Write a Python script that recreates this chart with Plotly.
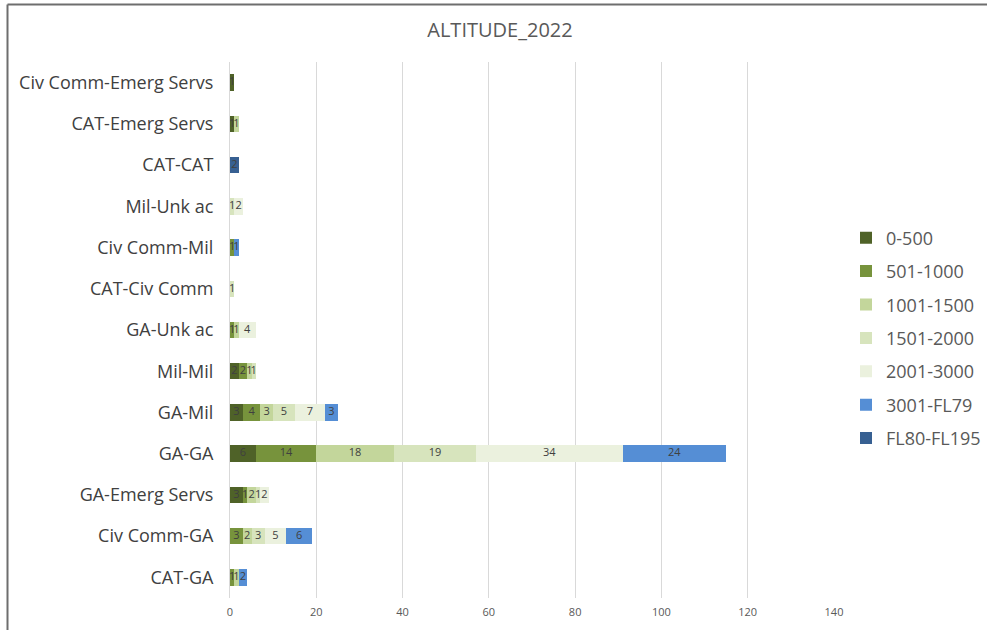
import plotly.graph_objects as go

# Encounter pairs, listed top to bottom
categories = [
    "Civ Comm-Emerg Servs", "CAT-Emerg Servs", "CAT-CAT", "Mil-Unk ac",
    "Civ Comm-Mil", "CAT-Civ Comm", "GA-Unk ac", "Mil-Mil", "GA-Mil",
    "GA-GA", "GA-Emerg Servs", "Civ Comm-GA", "CAT-GA",
]

# Altitude bands (stack order) and counts per pair
alt_0_500 =      [1, 1, 0, 0, 0, 0, 0, 2, 3, 6, 3, 0, 0]
alt_501_1000 =   [0, 0, 0, 0, 1, 0, 1, 2, 4, 14, 1, 3, 1]
alt_1001_1500 =  [0, 1, 0, 0, 0, 0, 1, 1, 3, 18, 2, 2, 1]
alt_1501_2000 =  [0, 0, 0, 1, 0, 1, 0, 1, 5, 19, 1, 3, 0]
alt_2001_3000 =  [0, 0, 0, 2, 0, 0, 4, 0, 7, 34, 2, 5, 0]
alt_3001_fl79 =  [0, 0, 0, 0, 1, 0, 0, 0, 3, 24, 0, 6, 2]
alt_fl80_fl195 = [0, 0, 2, 0, 0, 0, 0, 0, 0, 0, 0, 0, 0]

series = [
    ("0-500", alt_0_500, "#4F6228"),
    ("501-1000", alt_501_1000, "#77933C"),
    ("1001-1500", alt_1001_1500, "#C3D69B"),
    ("1501-2000", alt_1501_2000, "#D7E4BD"),
    ("2001-3000", alt_2001_3000, "#EBF1DE"),
    ("3001-FL79", alt_3001_fl79, "#558ED5"),
    ("FL80-FL195", alt_fl80_fl195, "#376092"),
]

FONT = "Open Sans"
TEXT = "#404040"

fig = go.Figure()
base = [0] * len(categories)
label_traces = []
for i, (name, vals, color) in enumerate(series):
    xs = [v if v else None for v in vals]
    fig.add_trace(go.Bar(
        name=name, y=categories, x=xs, orientation="h",
        marker=dict(color=color, line=dict(width=0)),
        legendgroup=f"g{i}",
    ))
    # value labels centred on each segment, kept on top of all bars
    mids = [b + v / 2 if v else None for b, v in zip(base, vals)]
    labels = [str(v) if v else "" for v in vals]
    label_traces.append(go.Scatter(
        x=mids, y=categories, mode="text", text=labels,
        textfont=dict(family=FONT, size=11, color=TEXT),
        showlegend=False, hoverinfo="skip", cliponaxis=False,
    ))
    base = [b + v for b, v in zip(base, vals)]
for t in label_traces:
    fig.add_trace(t)

W, H = 987, 630
L, R, T, B = 230, 153, 62, 32
pw, ph = W - L - R, H - T - B

fig.update_layout(
    width=W, height=H,
    margin=dict(l=L, r=R, t=T, b=B, autoexpand=False),
    barmode="stack", bargap=0.6,
    paper_bgcolor="white", plot_bgcolor="white",
    title=dict(text="ALTITUDE_2022", x=500 / W, xanchor="center", y=0.952, yanchor="middle",
               font=dict(family=FONT, size=20, color="#595959")),
    xaxis=dict(range=[0, 140], dtick=20, showgrid=True, gridcolor="#D9D9D9", gridwidth=1,
               zeroline=False, showline=False, ticks="", ticklabelstandoff=6,
               tickfont=dict(family=FONT, size=11, color="#595959")),
    yaxis=dict(range=[len(categories) - 0.5, -0.5], type="category",
               categoryorder="array", categoryarray=categories,
               showgrid=False, showline=True, linecolor="#D9D9D9",
               linewidth=1, ticks="", ticklabelstandoff=12,
               tickfont=dict(family=FONT, size=18, color=TEXT)),
    legend=dict(xref="container", yref="container", x=846 / W, xanchor="left",
                y=1 - 338 / H, yanchor="middle",
                traceorder="grouped", tracegroupgap=7,
                font=dict(family=FONT, size=18, color="#595959"),
                itemwidth=30, bgcolor="rgba(0,0,0,0)"),
    showlegend=True,
)

# chart frame: top and left edges
fx0, fx1 = (7.5 - L) / pw, (W + 5 - L) / pw
fy_top, fy_bot = 1 + (T - 4.5) / ph, -(B + 10) / ph
for x0, y0, x1, y1 in [(fx0, fy_top, fx1, fy_top), (fx0, fy_bot, fx0, fy_top)]:
    fig.add_shape(type="line", xref="paper", yref="paper", x0=x0, y0=y0, x1=x1, y1=y1,
                  line=dict(color="#6E6E6E", width=2), layer="below")

fig.write_html("out.html")
